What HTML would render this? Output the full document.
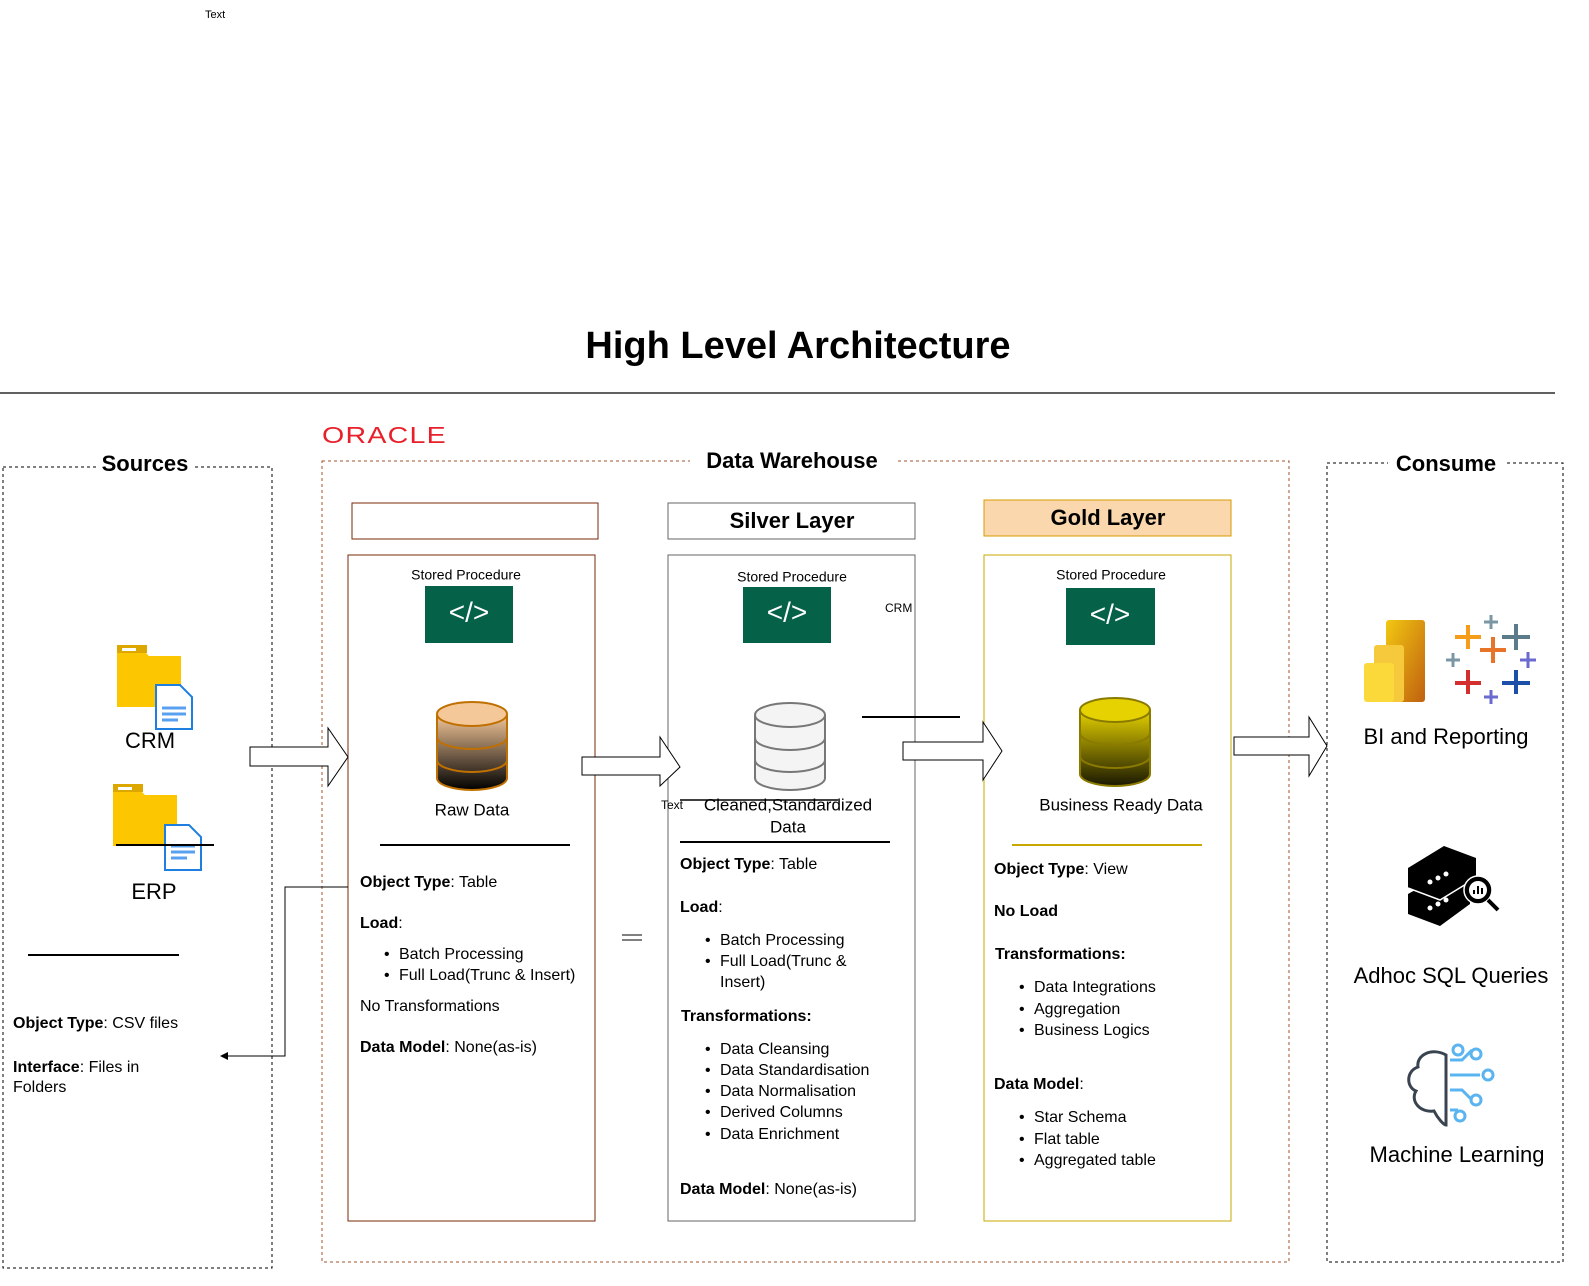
<!DOCTYPE html>
<html><head><meta charset="utf-8"><style>
html,body{margin:0;padding:0;background:#fff}
svg{display:block}
text{font-family:"Liberation Sans",Arial,sans-serif;fill:#000;dominant-baseline:middle}
.b{font-weight:bold}
.t16{font-size:16px}
</style></head><body>
<svg width="1589" height="1286" viewBox="0 0 1589 1286" xmlns="http://www.w3.org/2000/svg">
<defs>
<linearGradient id="gb" x1="0" y1="0" x2="0" y2="1"><stop offset="0" stop-color="#f5c89a"/><stop offset="1" stop-color="#000"/></linearGradient>
<linearGradient id="gg" x1="0" y1="0" x2="0" y2="1"><stop offset="0" stop-color="#e6d200"/><stop offset="1" stop-color="#1a1800"/></linearGradient>
<linearGradient id="pb" x1="0" y1="0" x2="1" y2="1"><stop offset="0" stop-color="#f2c811"/><stop offset="1" stop-color="#c06010"/></linearGradient>
</defs>
<text x="205" y="15" font-size="11">Text</text>
<text x="798" y="348" font-size="38" class="b" text-anchor="middle">High Level Architecture</text>
<line x1="0" y1="393" x2="1555" y2="393" stroke="#000" stroke-width="1.2"/>
<text x="322" y="437" font-size="23" style="fill:#e8202a;letter-spacing:1px" textLength="125" lengthAdjust="spacingAndGlyphs">ORACLE</text>

<!-- containers -->
<rect x="3" y="467" width="269" height="801" fill="none" stroke="#000" stroke-dasharray="3,3"/>
<rect x="97" y="452" width="95" height="26" fill="#fff"/>
<text x="145" y="465" font-size="22" class="b" text-anchor="middle">Sources</text>
<rect x="322" y="461" width="967" height="801" fill="none" stroke="#a0522d" stroke-dasharray="3,3"/>
<rect x="690" y="448" width="205" height="26" fill="#fff"/>
<text x="792" y="462" font-size="22" class="b" text-anchor="middle">Data Warehouse</text>
<rect x="1327" y="463" width="236" height="799" fill="none" stroke="#000" stroke-dasharray="3,3"/>
<rect x="1388" y="450" width="116" height="26" fill="#fff"/>
<text x="1446" y="465" font-size="22" class="b" text-anchor="middle">Consume</text>

<!-- layer headers -->
<rect x="352" y="503" width="246" height="36" fill="#fff" stroke="#7a2a0a"/>
<rect x="668" y="503" width="247" height="36" fill="#fff" stroke="#666"/>
<text x="792" y="522" font-size="22" class="b" text-anchor="middle">Silver Layer</text>
<rect x="984" y="500" width="247" height="36" fill="#fad7ac" stroke="#d79b00"/>
<text x="1108" y="519" font-size="22" class="b" text-anchor="middle">Gold Layer</text>

<!-- bodies -->
<rect x="348" y="555" width="247" height="666" fill="none" stroke="#7a2a0a"/>
<rect x="668" y="555" width="247" height="666" fill="none" stroke="#666"/>
<rect x="984" y="555" width="247" height="666" fill="none" stroke="#c8a800"/>

<!-- code icons -->
<rect x="425" y="586" width="88" height="57" fill="#066149"/>
<text x="469" y="614" font-size="28" style="fill:#fff" text-anchor="middle">&lt;/&gt;</text>
<rect x="743" y="587" width="88" height="56" fill="#066149"/>
<text x="787" y="614" font-size="28" style="fill:#fff" text-anchor="middle">&lt;/&gt;</text>
<rect x="1066" y="588" width="89" height="57" fill="#066149"/>
<text x="1110" y="616" font-size="28" style="fill:#fff" text-anchor="middle">&lt;/&gt;</text>
<text x="466" y="576" font-size="14" text-anchor="middle">Stored Procedure</text>
<text x="792" y="578" font-size="14" text-anchor="middle">Stored Procedure</text>
<text x="1111" y="576" font-size="14" text-anchor="middle">Stored Procedure</text>
<text x="885" y="609" font-size="12">CRM</text>

<!-- cylinders -->
<g stroke="#c07000" stroke-width="2">
<path d="M437,714 v64 a35,12 0 0 0 70,0 v-64" fill="url(#gb)"/>
<ellipse cx="472" cy="714" rx="35" ry="12" fill="#f5c89a"/>
<path d="M437,737 a35,12 0 0 0 70,0 M437,760 a35,12 0 0 0 70,0" fill="none"/>
</g>
<g stroke="#777" stroke-width="2">
<path d="M755,715 v63 a35,12 0 0 0 70,0 v-63" fill="#f4f4f4"/>
<ellipse cx="790" cy="715" rx="35" ry="12" fill="#f4f4f4"/>
<path d="M755,738 a35,12 0 0 0 70,0 M755,760 a35,12 0 0 0 70,0" fill="none"/>
</g>
<g stroke="#8a7a00" stroke-width="2">
<path d="M1080,710 v64 a35,12 0 0 0 70,0 v-64" fill="url(#gg)"/>
<ellipse cx="1115" cy="710" rx="35" ry="12" fill="#e6d200"/>
<path d="M1080,733 a35,12 0 0 0 70,0 M1080,756 a35,12 0 0 0 70,0" fill="none"/>
</g>

<!-- arrows -->
<g fill="#fff" stroke="#000" stroke-width="1">
<path d="M250,747 H328 V728 L348,757 L328,786 V766 H250 Z"/>
<path d="M582,757 H660 V737 L680,767 L660,786 V775 H582 Z"/>
<path d="M903,742 H983 V722 L1002,751 L983,780 V760 H903 Z"/>
<path d="M1234,737 H1309 V717 L1327,746 L1309,776 V755 H1234 Z"/>
</g>

<!-- folders -->
<path d="M117,650 h26 l6,6 h32 v51 h-64 z" fill="#fcc600"/>
<rect x="117" y="645" width="30" height="8" fill="#dca800"/>
<rect x="122" y="648" width="14" height="3" fill="#fff"/>
<path d="M156,685 h24 l12,12 v32 h-36 z" fill="#fff" stroke="#1f7fe0" stroke-width="2"/>
<g stroke="#5aa0f0" stroke-width="3"><line x1="162" y1="708" x2="186" y2="708"/><line x1="162" y1="714" x2="186" y2="714"/><line x1="162" y1="720" x2="178" y2="720"/></g>
<path d="M113,789 h26 l6,6 h32 v51 h-64 z" fill="#fcc600"/>
<rect x="113" y="784" width="30" height="8" fill="#dca800"/>
<rect x="118" y="787" width="14" height="3" fill="#fff"/>
<path d="M165,825 h24 l12,12 v33 h-36 z" fill="#fff" stroke="#1f7fe0" stroke-width="2"/>
<g stroke="#5aa0f0" stroke-width="3"><line x1="171" y1="846" x2="195" y2="846"/><line x1="171" y1="852" x2="195" y2="852"/><line x1="171" y1="858" x2="187" y2="858"/></g>

<!-- lines -->
<g stroke="#000" stroke-width="2">
<line x1="380" y1="845" x2="570" y2="845"/>
<line x1="680" y1="842" x2="890" y2="842"/>
<line x1="862" y1="717" x2="960" y2="717"/>
<line x1="680" y1="800" x2="838" y2="800" stroke-width="1.5"/>
<line x1="28" y1="955" x2="179" y2="955"/>
<line x1="116" y1="845" x2="214" y2="845"/>
<line x1="622" y1="935" x2="642" y2="935" stroke-width="1"/>
<line x1="622" y1="940" x2="642" y2="940" stroke-width="1"/>
</g>
<line x1="1012" y1="845" x2="1202" y2="845" stroke="#c8a800" stroke-width="2"/>
<path d="M348,887 H285 V1056 H226" fill="none" stroke="#000"/>
<path d="M220,1056 L228,1052 L228,1060 Z" fill="#000"/>

<!-- consume icons -->
<rect x="1386" y="620" width="39" height="82" rx="3" fill="url(#pb)"/>
<rect x="1374" y="645" width="30" height="57" rx="3" fill="#f6c83c"/>
<rect x="1364" y="663" width="30" height="39" rx="3" fill="#fcd93a"/>
<g stroke-width="4">
<path d="M1480,650 h26 M1493,637 v26" stroke="#e8742a"/>
<path d="M1455,637 h26 M1468,625 v24" stroke="#f59c1a"/>
<path d="M1502,637 h28 M1516,624 v26" stroke="#5b7b8a"/>
<path d="M1455,683 h26 M1468,670 v24" stroke="#d32f2f"/>
<path d="M1502,683 h28 M1516,670 v24" stroke="#1b4fa8"/>
<path d="M1484,622 h14 M1491,615 v14" stroke="#7b97a4" stroke-width="3"/>
<path d="M1446,660 h14 M1453,653 v14" stroke="#7b97a4" stroke-width="3"/>
<path d="M1520,660 h16 M1528,652 v16" stroke="#6a6ad0" stroke-width="3"/>
<path d="M1484,697 h14 M1491,690 v14" stroke="#6a6ad0" stroke-width="3"/>
</g>
<g>
<path d="M1408,868 l36,-22 l32,12 v20 l-36,22 l-32,-12 z" fill="#000"/>
<path d="M1408,894 l36,-20 l26,10 v20 l-30,22 l-32,-12 z" fill="#000"/>
<path d="M1408,888 l32,12 l36,-22" fill="none" stroke="#fff" stroke-width="1.5"/>
<circle cx="1478" cy="890" r="14" fill="#000" stroke="#fff" stroke-width="1.5"/>
<circle cx="1478" cy="890" r="9" fill="#fff"/>
<path d="M1474,894 v-4 M1478,894 v-8 M1482,894 v-6" stroke="#000" stroke-width="2"/>
<line x1="1488" y1="900" x2="1498" y2="910" stroke="#000" stroke-width="4"/>
<g fill="#fff"><circle cx="1430" cy="882" r="2.5"/><circle cx="1438" cy="878" r="2.5"/><circle cx="1446" cy="874" r="2.5"/><circle cx="1430" cy="908" r="2.5"/><circle cx="1438" cy="904" r="2.5"/><circle cx="1446" cy="900" r="2.5"/></g>
</g>
<g fill="none" stroke-width="3">
<path d="M1446,1055 c-14,-8 -30,0 -28,12 c-12,4 -12,20 -2,24 c-6,10 4,22 18,20 c4,8 10,14 12,14 z" stroke="#3a4450"/>
<path d="M1450,1060 h12 l10,-10 M1450,1075 h30 M1450,1090 h12 l10,10 M1450,1110 h8" stroke="#5ab4f0"/>
<circle cx="1458" cy="1050" r="5" stroke="#5ab4f0"/><circle cx="1476" cy="1054" r="5" stroke="#5ab4f0"/><circle cx="1488" cy="1075" r="5" stroke="#5ab4f0"/><circle cx="1476" cy="1100" r="5" stroke="#5ab4f0"/><circle cx="1460" cy="1116" r="5" stroke="#5ab4f0"/>
</g>
<text x="1446" y="738" font-size="22" text-anchor="middle">BI and Reporting</text>
<text x="1451" y="977" font-size="22" text-anchor="middle">Adhoc SQL Queries</text>
<text x="1457" y="1156" font-size="22" text-anchor="middle">Machine Learning</text>

<text x="150" y="742" font-size="22" text-anchor="middle">CRM</text>
<text x="154" y="893" font-size="22" text-anchor="middle">ERP</text>
<g class="t16">
<text x="13" y="1024"><tspan class="b">Object Type</tspan>: CSV files</text>
<text x="13" y="1068"><tspan class="b">Interface</tspan>: Files in</text>
<text x="13" y="1088">Folders</text>

<text x="472" y="811" font-size="17" text-anchor="middle">Raw Data</text>
<text x="360" y="883"><tspan class="b">Object Type</tspan>: Table</text>
<text x="360" y="924"><tspan class="b">Load</tspan>:</text>
<text x="384" y="955">•</text><text x="399" y="955">Batch Processing</text>
<text x="384" y="976">•</text><text x="399" y="976">Full Load(Trunc &amp; Insert)</text>
<text x="360" y="1007">No Transformations</text>
<text x="360" y="1048"><tspan class="b">Data Model</tspan>: None(as-is)</text>

<text x="661" y="806" font-size="12">Text</text>
<text x="788" y="806" font-size="17" text-anchor="middle">Cleaned,Standardized</text>
<text x="788" y="828" font-size="17" text-anchor="middle">Data</text>
<text x="680" y="865"><tspan class="b">Object Type</tspan>: Table</text>
<text x="680" y="908"><tspan class="b">Load</tspan>:</text>
<text x="705" y="941">•</text><text x="720" y="941">Batch Processing</text>
<text x="705" y="962">•</text><text x="720" y="962">Full Load(Trunc &amp;</text>
<text x="720" y="983">Insert)</text>
<text x="681" y="1017" class="b">Transformations:</text>
<text x="705" y="1050">•</text><text x="720" y="1050">Data Cleansing</text>
<text x="705" y="1071">•</text><text x="720" y="1071">Data Standardisation</text>
<text x="705" y="1092">•</text><text x="720" y="1092">Data Normalisation</text>
<text x="705" y="1113">•</text><text x="720" y="1113">Derived Columns</text>
<text x="705" y="1135">•</text><text x="720" y="1135">Data Enrichment</text>
<text x="680" y="1190"><tspan class="b">Data Model</tspan>: None(as-is)</text>

<text x="1121" y="806" font-size="17" text-anchor="middle">Business Ready Data</text>
<text x="994" y="870"><tspan class="b">Object Type</tspan>: View</text>
<text x="994" y="912" class="b">No Load</text>
<text x="995" y="955" class="b">Transformations:</text>
<text x="1019" y="988">•</text><text x="1034" y="988">Data Integrations</text>
<text x="1019" y="1010">•</text><text x="1034" y="1010">Aggregation</text>
<text x="1019" y="1031">•</text><text x="1034" y="1031">Business Logics</text>
<text x="994" y="1085"><tspan class="b">Data Model</tspan>:</text>
<text x="1019" y="1118">•</text><text x="1034" y="1118">Star Schema</text>
<text x="1019" y="1140">•</text><text x="1034" y="1140">Flat table</text>
<text x="1019" y="1161">•</text><text x="1034" y="1161">Aggregated table</text>
</g>
</svg>
</body></html>
